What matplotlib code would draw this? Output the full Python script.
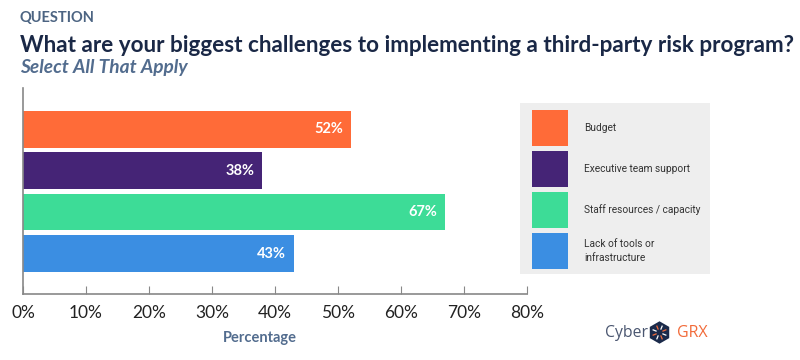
import matplotlib
matplotlib.use('Agg')
import matplotlib.pyplot as plt
from matplotlib.patches import Rectangle, RegularPolygon
import numpy as np

plt.rcParams['font.family'] = ['Lato', 'DejaVu Sans']

categories = ['Budget', 'Executive team support', 'Staff resources / capacity',
              'Lack of tools or\ninfrastructure']
values = [52, 38, 67, 43]
colors = ['#FF6B38', '#452476', '#3DDC97', '#3B8EE2']
xticks = [0, 10, 20, 30, 40, 50, 60, 70, 80]

fig = plt.figure(figsize=(8, 3.6), dpi=100)
fig.patch.set_facecolor('white')

# titles
fig.text(20/800, 1-18/360, 'QUESTION', fontsize=10.5, fontweight='bold',
         color='#4C6482', va='center', ha='left')
fig.text(20/800, 1-46/360,
         'What are your biggest challenges to implementing a third-party risk program?',
         fontsize=16.2, fontweight='bold', color='#1A2846', va='center', ha='left')
fig.text(20/800, 1-67/360, 'Select All That Apply', fontsize=13.8,
         fontweight='bold', style='italic', color='#526C8E', va='center', ha='left')

# main bars
ax = fig.add_axes([23/800, 1-294/360, 504/800, 206/360])
y = np.arange(len(values))
ax.barh(y, values, height=0.89, color=colors)
for yi, v in zip(y, values):
    ax.text(v - 1.2, yi, f'{v}%', ha='right', va='center', color='white',
            fontsize=10.5, fontweight='bold')
ax.set_xlim(0, 80)
ax.set_ylim(3.976, -0.99)
ax.set_xticks(xticks)
ax.set_xticklabels([f'{t}%' for t in xticks], fontsize=12.5, color='#222222')
ax.set_yticks([])
ax.tick_params(axis='x', direction='in', length=6, color='#888888', pad=8)
for s in ['top', 'right']:
    ax.spines[s].set_visible(False)
for s in ['left', 'bottom']:
    ax.spines[s].set_color('#888888')
    ax.spines[s].set_linewidth(1.2)

fig.text(260/800, 1-338/360, 'Percentage', fontsize=10.5, fontweight='bold',
         color='#526C8E', ha='center', va='center')

# legend panel
lax = fig.add_axes([520/800, 1-274/360, 190/800, 171/360])
lax.set_xlim(0, 190)
lax.set_ylim(171, 0)
lax.set_facecolor('#EEEEEE')
lax.set_xticks([])
lax.set_yticks([])
for s in lax.spines.values():
    s.set_visible(False)
sw_tops = [7, 48, 89, 130]
for top, c, lab in zip(sw_tops, colors, categories):
    lax.add_patch(Rectangle((12, top), 36, 36, facecolor=c, edgecolor='none'))
    lax.text(64, top + 18, lab, fontsize=7.3, color='#333333', va='center',
             ha='left', family=['Roboto', 'DejaVu Sans'], linespacing=1.5)

# logo
fig.text(605/800, 1-333/360, 'Cyber', fontsize=11.3, color='#4A5670',
         ha='left', va='center', family=['Open Sans', 'DejaVu Sans'])
fig.text(677/800, 1-333/360, 'GRX', fontsize=11.5, color='#F26B3A',
         ha='left', va='center', family=['Open Sans', 'DejaVu Sans'])
gax = fig.add_axes([646/800, 1-346/360, 27/800, 27/360])
gax.set_xlim(-1.3, 1.3)
gax.set_ylim(-1.3, 1.3)
gax.axis('off')
gax.add_patch(RegularPolygon((0, 0), 6, radius=1.08, orientation=0,
                             facecolor='#1B2A4A', edgecolor='none'))
for k in range(8):
    a = k * np.pi / 4 + np.pi / 8
    c = '#F26B3A' if k % 2 == 0 else 'white'
    gax.plot([0.3*np.cos(a), 0.72*np.cos(a)], [0.3*np.sin(a), 0.72*np.sin(a)],
             color=c, lw=0.9, solid_capstyle='butt')

fig.savefig('out.png', dpi=100)
